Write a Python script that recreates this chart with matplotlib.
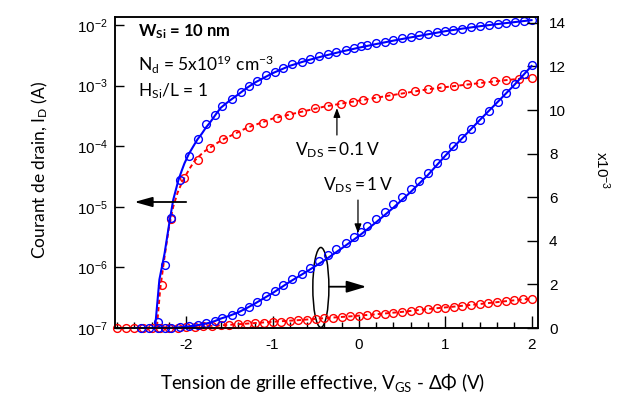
import numpy as np
import matplotlib
matplotlib.use('Agg')
import matplotlib.pyplot as plt
from matplotlib.patches import Ellipse
from matplotlib.ticker import MultipleLocator, NullLocator

plt.rcParams['font.family'] = ['Liberation Sans', 'DejaVu Sans']
plt.rcParams['mathtext.default'] = 'regular'
plt.rcParams['axes.unicode_minus'] = False

# V_DS = 1 V : mesures (cercles bleus), courant en A
blue_v = [-2.52, -2.43, -2.33, -2.25, -2.17, -2.07, -1.97, -1.86,
          -1.77, -1.67, -1.58, -1.47, -1.36, -1.27,
          -1.18, -1.07, -0.97, -0.88, -0.77, -0.66, -0.57, -0.46, -0.36, -0.26, -0.15, -0.06,
          0.02, 0.09, 0.20, 0.30, 0.40, 0.50, 0.60, 0.70, 0.80, 0.90, 1.00,
          1.09, 1.20, 1.30, 1.40, 1.51, 1.61, 1.71, 1.81, 1.91, 2.01]
blue_id = [1e-8, 3e-8, 1.26e-7, 1.1e-6, 6.6e-6, 2.75e-5, 6.9e-5, 1.3e-4,
           2.3e-4, 3.3e-4, 4.6e-4, 6.0e-4, 7.8e-4, 9.8e-4,
           1.20e-3, 1.47e-3, 1.70e-3, 1.97e-3, 2.24e-3, 2.48e-3, 2.77e-3, 3.07e-3, 3.35e-3, 3.62e-3, 3.91e-3, 4.19e-3,
           4.42e-3, 4.68e-3, 5.00e-3, 5.31e-3, 5.67e-3, 6.02e-3, 6.38e-3, 6.76e-3, 7.13e-3, 7.55e-3, 7.94e-3,
           8.36e-3, 8.73e-3, 9.13e-3, 9.54e-3, 9.95e-3, 10.38e-3, 10.80e-3, 11.19e-3, 11.64e-3, 12.06e-3]

# V_DS = 1 V : simulation (trait plein bleu)
blue_sim_v = [-2.6, -2.36, -2.31, -2.25, -2.19, -2.15, -2.09, -2.05, -2.02, -1.97,
              -1.92, -1.87, -1.82, -1.77, -1.72, -1.66, -1.6, -1.5, -1.4, -1.3,
              -1.2, -1.0, -0.8, -0.6, -0.4, -0.2, 0.0,
              0.2, 0.4, 0.6, 0.8, 1.0, 1.2, 1.4, 1.6, 1.8, 2.0]
blue_sim_id = [1e-9, 1.0e-7, 6.3e-7, 1.7e-6, 6.0e-6, 1.3e-5, 2.75e-5, 4.0e-5, 5.2e-5, 7.4e-5,
               9.8e-5, 1.29e-4, 1.6e-4, 2.04e-4, 2.5e-4, 3.3e-4, 4.3e-4, 5.6e-4, 7.1e-4, 9.1e-4,
               1.13e-3, 1.60e-3, 2.12e-3, 2.60e-3, 3.10e-3, 3.65e-3, 4.22e-3,
               4.85e-3, 5.52e-3, 6.24e-3, 7.02e-3, 7.90e-3, 8.72e-3, 9.54e-3, 10.34e-3, 11.15e-3, 12.02e-3]

# V_DS = 0.1 V : mesures en echelle log (A)
red_log_v = [-2.28, -2.17, -2.02, -1.86, -1.72, -1.57, -1.42, -1.27, -1.11, -0.95,
             -0.81, -0.66, -0.51, -0.36, -0.21, -0.07, 0.05, 0.20, 0.35, 0.50,
             0.65, 0.80, 0.95, 1.10, 1.25, 1.40, 1.56, 1.71, 1.86, 2.01]
red_log_id = [5.1e-7, 6.2e-6, 3.0e-5, 6.0e-5, 9.5e-5, 1.29e-4, 1.62e-4, 2.09e-4, 2.40e-4, 2.88e-4,
              3.24e-4, 3.72e-4, 4.27e-4, 4.57e-4, 5.01e-4, 5.37e-4, 5.75e-4, 6.31e-4, 6.76e-4, 7.41e-4,
              8.13e-4, 8.71e-4, 9.33e-4, 9.77e-4, 1.047e-3, 1.096e-3, 1.175e-3, 1.23e-3, 1.29e-3, 1.35e-3]

# V_DS = 0.1 V : mesures en echelle lineaire (x10^-3 A)
red_lin_v = [-2.8, -2.7, -2.6, -2.5, -2.4, -2.3, -2.2, -2.1, -2.0, -1.9,
             -1.8, -1.7, -1.6, -1.5, -1.4, -1.3, -1.2, -1.1, -1.0, -0.9,
             -0.8, -0.7, -0.6, -0.5, -0.4, -0.3, -0.2, -0.1, 0.0, 0.1,
             0.2, 0.3, 0.4, 0.5, 0.6, 0.7, 0.8, 0.9, 1.0, 1.1,
             1.2, 1.3, 1.4, 1.5, 1.6, 1.7, 1.8, 1.9, 2.0]
red_lin_ma = [0.0, 0.0, 0.0, 0.0, 0.0, 0.001, 0.004, 0.015, 0.033, 0.052,
              0.072, 0.098, 0.122, 0.145, 0.167, 0.20, 0.223, 0.242, 0.273, 0.298,
              0.326, 0.36, 0.39, 0.42, 0.45, 0.474, 0.503, 0.53, 0.56, 0.59,
              0.63, 0.66, 0.70, 0.74, 0.79, 0.83, 0.87, 0.91, 0.94, 0.98,
              1.02, 1.06, 1.10, 1.14, 1.19, 1.23, 1.27, 1.31, 1.35]

# V_DS = 0.1 V : simulation (tirets rouges)
red_sim_v = [-2.6, -2.34, -2.3, -2.25, -2.2, -2.15, -2.1, -2.05, -2.0, -1.95,
             -1.9, -1.8, -1.7, -1.6, -1.5, -1.3, -1.0, -0.7, -0.4, -0.1,
             0.2, 0.5, 0.8, 1.1, 1.4, 1.7, 2.0]
red_sim_id = [1e-9, 1e-7, 4.5e-7, 1.5e-6, 4.5e-6, 1.0e-5, 1.7e-5, 2.5e-5, 3.4e-5, 4.5e-5,
              5.8e-5, 8.0e-5, 1.0e-4, 1.23e-4, 1.45e-4, 2.0e-4, 2.85e-4, 3.6e-4, 4.5e-4, 5.35e-4,
              6.3e-4, 7.4e-4, 8.7e-4, 9.8e-4, 1.1e-3, 1.23e-3, 1.35e-3]

log_ticks = [1e-7, 1e-6, 1e-5, 1e-4, 1e-3, 1e-2]
log_labels = ['$10^{-7}$', '$10^{-6}$', '$10^{-5}$', '$10^{-4}$', '$10^{-3}$', '$10^{-2}$']
lin_ticks = [0, 2, 4, 6, 8, 10, 12, 14]

W, H = 622, 405
BLUE = '#0000ff'
RED = '#ff0000'


def fpos(x, y):
    # pixel -> fraction de figure
    return x / W, 1 - y / H


fig = plt.figure(figsize=(W / 100, H / 100), dpi=100)
ax = fig.add_axes([114.5 / W, 1 - 328 / H, (538 - 114.5) / W, (328 - 17) / H])
ax2 = ax.twinx()

mk = dict(marker='o', ls='none', mfc='none', ms=5.6, mew=1.0)

# courbes log (axe gauche)
ax.plot(red_sim_v, red_sim_id, color=RED, lw=1.4, dashes=(2.2, 1.6))
ax.plot(red_log_v, red_log_id, mec=RED, **mk)
ax.plot(blue_sim_v, blue_sim_id, color=BLUE, lw=1.5)
ax.plot(blue_v, blue_id, mec=BLUE, **mk)

# courbes lineaires (axe droit, x10^-3)
ax2.plot(red_sim_v, np.array(red_sim_id) * 1e3, color=RED, lw=1.4, dashes=(2.2, 1.6))
ax2.plot(red_lin_v, red_lin_ma, mec=RED, clip_on=False, **mk)
ax2.plot(blue_sim_v, np.array(blue_sim_id) * 1e3, color=BLUE, lw=1.5)
ax2.plot(blue_v, np.array(blue_id) * 1e3, mec=BLUE, clip_on=False, **mk)

ax.set_xlim(-2.83, 2.075)
ax.set_yscale('log')
ax.set_ylim(1e-7, 10 ** -1.868)
ax.set_yticks(log_ticks, labels=log_labels)
ax.yaxis.set_minor_locator(NullLocator())
ax.xaxis.set_major_locator(MultipleLocator(1))
ax.xaxis.set_minor_locator(MultipleLocator(0.2))
ax.tick_params(axis='x', which='major', direction='in', length=8.5, width=1.0, top=False, labelsize=11, pad=7)
ax.tick_params(axis='x', which='minor', direction='in', length=4.5, width=1.0, top=False)
ax.tick_params(axis='y', which='major', direction='in', length=6.5, width=1.0, right=False, labelsize=11, pad=5)

ax2.set_ylim(0, 14.27)
ax2.set_yticks(lin_ticks)
ax2.tick_params(axis='y', direction='in', length=8, width=1.0, labelsize=11, pad=8)

for a in (ax, ax2):
    for s in a.spines.values():
        s.set_linewidth(1.1)

# fleches, ellipse
ax.annotate('', xy=(-2.6, 1.2e-5), xytext=(-2.0, 1.2e-5),
            arrowprops=dict(arrowstyle='-|>,head_length=0.9,head_width=0.25', mutation_scale=12,
                            lw=1.3, color='k', shrinkA=0, shrinkB=0))
ax2.annotate('', xy=(0.087, 1.895), xytext=(-0.347, 1.895),
             arrowprops=dict(arrowstyle='-|>,head_length=1.0,head_width=0.3', mutation_scale=12,
                             lw=1.3, color='k', shrinkA=0, shrinkB=0))
ax2.add_patch(Ellipse((-0.44, 1.86), width=0.186, height=3.67, fill=False, ec='k', lw=1.1, clip_on=False))
ax.annotate('', xy=(-0.254, 4.26e-4), xytext=(-0.254, 1.53e-4),
            arrowprops=dict(arrowstyle='-|>,head_length=0.45,head_width=0.17', mutation_scale=12,
                            lw=0.9, color='k', shrinkA=0, shrinkB=0))
ax2.annotate('', xy=(-0.01, 4.35), xytext=(-0.01, 5.87),
             arrowprops=dict(arrowstyle='-|>,head_length=0.45,head_width=0.17', mutation_scale=12,
                             lw=0.9, color='k', shrinkA=0, shrinkB=0))

lab = ['Lato', 'DejaVu Sans']
fig.text(*fpos(138, 36.5), 'W$_{Si}$ = 10 nm', family=lab, fontsize=12, fontweight='bold', va='baseline')
fig.text(*fpos(138, 71), 'N$_{d}$ = 5x10$^{19}$ cm$^{-3}$', family=lab, fontsize=12.5, va='baseline')
fig.text(*fpos(138, 96.5), 'H$_{Si}$/L = 1', family=lab, fontsize=12.5, va='baseline')
fig.text(*fpos(295, 155), r'V$_{DS}$$\,$=$\,$0.1$\,$V', family=lab, fontsize=12.5, va='baseline')
fig.text(*fpos(323, 190.5), r'V$_{DS}$$\,$=$\,$1$\,$V', family=lab, fontsize=12.5, va='baseline')

fig.text(*fpos(323, 383), 'Tension de grille effective, V$_{GS}$ - ΔΦ (V)', family=lab, fontsize=13.5,
         ha='center', va='center')
fig.text(*fpos(40, 170), 'Courant de drain, I$_{D}$ (A)', family=lab, fontsize=12.5,
         rotation=90, ha='center', va='center')
fig.text(*fpos(602, 170), 'x10$^{-3}$', fontsize=11, rotation=-90, ha='center', va='center')

fig.savefig('out.png', dpi=100)
